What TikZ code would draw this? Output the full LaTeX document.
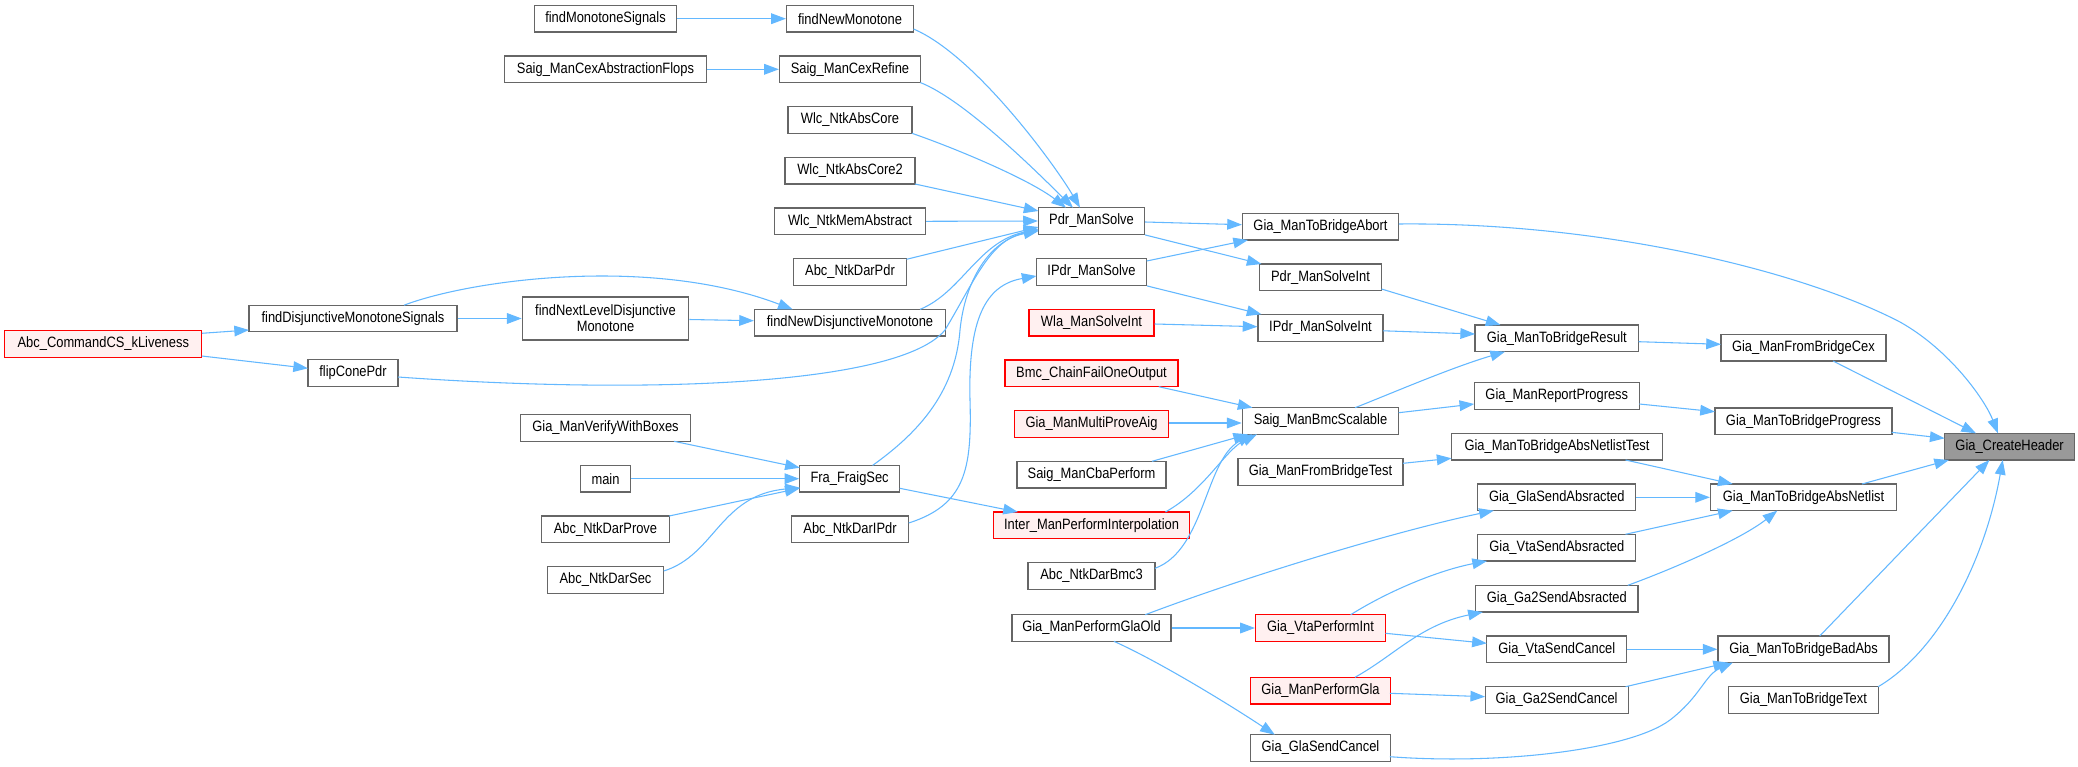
\documentclass[tikz,border=0pt]{standalone}
\usepackage{fontspec}
\newfontfamily\dox[FakeStretch=0.86]{Liberation Sans}
\usetikzlibrary{arrows.meta,calc}
\definecolor{edgeblue}{HTML}{63B8FF}
\definecolor{boxgray}{HTML}{666666}
\definecolor{redfill}{HTML}{FFF0F0}
\definecolor{hdrfill}{HTML}{999999}
\tikzset{
  box/.style={draw=boxgray, fill=white, line width=0.9pt, minimum height=20pt, inner sep=0pt, font=\dox\fontsize{11.25pt}{12pt}\selectfont},
  rbox/.style={box, draw=red, fill=redfill},
  hbox/.style={box, fill=hdrfill},
  bw/.style={minimum width=#1*0.75pt},
  edge/.style={draw=edgeblue, line width=0.8pt, -{Triangle[length=11pt,width=8pt]}},
}
\begin{document}
\begin{tikzpicture}[x=0.75pt,y=-0.75pt]
\path[use as bounding box, fill=white] (0,0) rectangle (2078,767);
% column 1
\node[rbox,bw=197] (kl) at (103.3,344) {Abc\_CommandCS\_kLiveness};
% column 2
\node[box,bw=208] (fdms) at (353,318.5) {findDisjunctiveMonotoneSignals};
\node[box,bw=90] (fcp) at (353,373) {flipConePdr};
% column 3
\node[box,bw=142] (fms) at (605.5,18.7) {findMonotoneSignals};
\node[box,bw=202] (scaf) at (605.5,69.3) {Saig\_ManCexAbstractionFlops};
\node[box,bw=166.5,minimum height=32.25pt,align=center] (fnld) at (605.5,318.5) {findNextLevelDisjunctive\\Monotone};
\node[box,bw=170] (gmvwb) at (605.5,428) {Gia\_ManVerifyWithBoxes};
\node[box,bw=50] (main) at (605.5,478.7) {main};
\node[box,bw=128] (dprove) at (605.5,529.3) {Abc\_NtkDarProve};
\node[box,bw=116.5] (dsec) at (605.5,580) {Abc\_NtkDarSec};
% column 4
\node[box,bw=127] (fnm) at (850,18.7) {findNewMonotone};
\node[box,bw=141] (scr) at (850,69.3) {Saig\_ManCexRefine};
\node[box,bw=124] (wac) at (850,120) {Wlc\_NtkAbsCore};
\node[box,bw=130] (wac2) at (850,170.7) {Wlc\_NtkAbsCore2};
\node[box,bw=151] (wma) at (850,221.3) {Wlc\_NtkMemAbstract};
\node[box,bw=113] (dpdr) at (850,272) {Abc\_NtkDarPdr};
\node[box,bw=191] (fndm) at (850,322.7) {findNewDisjunctiveMonotone};
\node[box,bw=99.6] (ffs) at (849.6,478.7) {Fra\_FraigSec};
\node[box,bw=117.5] (dipdr) at (850,529.3) {Abc\_NtkDarIPdr};
% column 5
\node[box,bw=106] (pms) at (1091.5,221) {Pdr\_ManSolve};
\node[box,bw=110] (ipms) at (1091.5,272) {IPdr\_ManSolve};
\node[rbox,bw=125] (wla) at (1091.5,322.7) {Wla\_ManSolveInt};
\node[rbox,bw=173] (bmc) at (1091.5,373.3) {Bmc\_ChainFailOneOutput};
\node[rbox,bw=154.5] (mpa) at (1091.5,424) {Gia\_ManMultiProveAig};
\node[box,bw=149] (cba) at (1091.5,474.7) {Saig\_ManCbaPerform};
\node[rbox,bw=196] (imp) at (1091.5,525.3) {Inter\_ManPerformInterpolation};
\node[box,bw=127] (bmc3) at (1091.5,576) {Abc\_NtkDarBmc3};
\node[box,bw=159] (pgo) at (1091.5,628) {Gia\_ManPerformGlaOld};
% column 6
\node[box,bw=156] (tba) at (1320.5,226.7) {Gia\_ManToBridgeAbort};
\node[box,bw=121.5] (pmsi) at (1320.5,277.3) {Pdr\_ManSolveInt};
\node[box,bw=125] (ipmsi) at (1320.5,327.8) {IPdr\_ManSolveInt};
\node[box,bw=156.5] (sbs) at (1320.5,421) {Saig\_ManBmcScalable};
\node[box,bw=165] (fbt) at (1320.5,472) {Gia\_ManFromBridgeTest};
\node[rbox,bw=130] (vpi) at (1320.5,628) {Gia\_VtaPerformInt};
\node[rbox,bw=139.5] (pg) at (1320.5,690.7) {Gia\_ManPerformGla};
\node[box,bw=139.5] (gsc) at (1320.5,748) {Gia\_GlaSendCancel};
% column 7
\node[box,bw=163.5] (tbr) at (1556.8,338.3) {Gia\_ManToBridgeResult};
\node[box,bw=165] (rp) at (1556.8,396) {Gia\_ManReportProgress};
\node[box,bw=211] (tbant) at (1557,446.7) {Gia\_ManToBridgeAbsNetlistTest};
\node[box,bw=158] (gsa) at (1556.8,497.3) {Gia\_GlaSendAbsracted};
\node[box,bw=158] (vsa) at (1556.8,547.7) {Gia\_VtaSendAbsracted};
\node[box,bw=162.5] (g2sa) at (1556.8,598.7) {Gia\_Ga2SendAbsracted};
\node[box,bw=140] (vsc) at (1556.8,649.3) {Gia\_VtaSendCancel};
\node[box,bw=143] (g2sc) at (1556.6,700) {Gia\_Ga2SendCancel};
% column 8
\node[box,bw=165] (fbc) at (1803.4,347.7) {Gia\_ManFromBridgeCex};
\node[box,bw=177] (tbp) at (1803.4,421.3) {Gia\_ManToBridgeProgress};
\node[box,bw=186] (tban) at (1803.5,497.3) {Gia\_ManToBridgeAbsNetlist};
\node[box,bw=171] (tbba) at (1803.5,649.3) {Gia\_ManToBridgeBadAbs};
\node[box,bw=149.5] (tbt) at (1803.4,700) {Gia\_ManToBridgeText};
% column 9
\node[hbox,bw=130] (ch) at (2009.6,446.7) {Gia\_CreateHeader};

% edges
\draw[edge] (fms.east) -- (fnm.west);
\draw[edge] (scaf.east) -- (scr.west);
\draw[edge] ($(fnm)+(63.5,10.3)$) .. controls (975,55) and (1055,165) .. ($(pms)+(-11.5,-13.3)$);
\draw[edge] ($(scr)+(70.4,13.3)$) .. controls (965,100) and (1040,175) .. ($(pms)+(-18.5,-13.3)$);
\draw[edge] ($(wac)+(62,13.3)$) .. controls (960,150) and (1030,180) .. ($(pms)+(-25.5,-13.3)$);
\draw[edge] ($(wac2)+(65,13.3)$) -- ($(pms)+(-53,-10)$);
\draw[edge] ($(wma.east)+(0,0)$) -- (pms.west);
\draw[edge] ($(dpdr)+(56.5,-12.7)$) -- ($(pms)+(-53,6)$);
\draw[edge] ($(fndm)+(70,-13.3)$) .. controls (962,292) and (978,242) .. ($(pms)+(-53,8)$);
\draw[edge] ($(fcp)+(45,4)$) .. controls (650,395) and (900,385) .. (945,330) .. controls (975,280) and (990,240) .. ($(pms)+(-53,9)$);
\draw[edge] ($(ffs)+(23,-13.3)$) .. controls (915,435) and (955,395) .. (960,330) .. controls (965,280) and (990,240) .. ($(pms)+(-53,10)$);
\draw[edge] ($(fdms)+(51,-13.3)$) .. controls (470,280) and (650,255) .. ($(fndm)+(-57.3,-13.3)$);
\draw[edge] (fdms.east) -- (fnld.west);
\draw[edge] ($(fnld.east)+(0,1)$) -- ($(fndm.west)+(0,-2)$);
\draw[edge] ($(kl)+(98.5,-10.7)$) -- ($(fdms)+(-104,11.5)$);
\draw[edge] ($(kl)+(98.5,12)$) -- ($(fcp)+(-45,-4.7)$);
\draw[edge] ($(dipdr)+(58.75,-6.3)$) .. controls (965,505) and (972,470) .. (970,400) .. controls (968,320) and (985,285) .. ($(ipms)+(-55,4)$);
\draw[edge] ($(pms.east)+(0,1)$) -- ($(tba.west)+(0,-2)$);
\draw[edge] (pms.south east) -- ($(pmsi)+(-59,-13.3)$);
\draw[edge] ($(ipms)+(55.2,-11)$) -- ($(tba)+(-72.5,13.3)$);
\draw[edge] (ipms.south east) -- ($(ipmsi)+(-59,-13.5)$);
\draw[edge] ($(wla.east)+(0,1.3)$) -- ($(ipmsi.west)+(0,-1.1)$);
\draw[edge] ($(pmsi)+(61,11.7)$) -- ($(tbr)+(-56.3,-13.3)$);
\draw[edge] ($(ipmsi)+(62.7,3)$) -- ($(tbr)+(-81.75,-4.3)$);
\draw[edge] ($(sbs)+(34.5,-13.3)$) .. controls (1390,394) and (1450,368) .. ($(tbr)+(-51.8,13.4)$);
\draw[edge] ($(bmc)+(67.25,13.4)$) -- ($(sbs)+(-68,-13.3)$);
\draw[edge] ($(mpa.east)+(0,-1)$) -- ($(sbs.west)+(0,2)$);
\draw[edge] ($(cba)+(60.5,-13.4)$) -- ($(sbs)+(-72.5,13.3)$);
\draw[edge] ($(imp)+(73.9,-13.3)$) .. controls (1205,490) and (1225,450) .. ($(sbs)+(-63.5,13.3)$);
\draw[edge] ($(bmc3)+(63.5,-7.7)$) .. controls (1205,550) and (1205,460) .. ($(sbs)+(-68.5,13.3)$);
\draw[edge] ($(gmvwb)+(68.5,13.3)$) -- ($(ffs)+(-49.8,-11)$);
\draw[edge] (main.east) -- (ffs.west);
\draw[edge] ($(dprove)+(63.6,-13.3)$) -- ($(ffs)+(-49.8,9.5)$);
\draw[edge] ($(dsec)+(58.25,-9)$) .. controls (715,555) and (720,495) .. ($(ffs)+(-49.8,9)$);
\draw[edge] ($(ffs)+(50.2,9.6)$) -- ($(imp)+(-73.6,-13.3)$);
\draw[edge] ($(sbs)+(78.25,-8.3)$) -- ($(rp)+(-82.6,8)$);
\draw[edge] ($(tbr)+(81.75,3.4)$) -- ($(fbc)+(-82.5,-3.4)$);
\draw[edge] ($(rp)+(82.6,8)$) -- ($(tbp)+(-88.5,-9.6)$);
\draw[edge] ($(fbt)+(82.5,-8.7)$) -- ($(tbant)+(-105.5,11.6)$);
\draw[edge] ($(tbant)+(68.5,13.3)$) -- ($(tban)+(-70.8,-13.3)$);
\draw[edge] (gsa.east) -- (tban.west);
\draw[edge] ($(vsa)+(68.7,-13.4)$) -- ($(tban)+(-70.8,13.3)$);
\draw[edge] ($(g2sa)+(71,-13.4)$) .. controls (1670,570) and (1740,540) .. ($(tban)+(-26.2,13.3)$);
\draw[edge] ($(pgo)+(53.8,-13.3)$) .. controls (1250,575) and (1400,530) .. ($(gsa)+(-63,13.3)$);
\draw[edge] (pgo.east) -- (vpi.west);
\draw[edge] ($(pgo)+(22.4,13.3)$) .. controls (1160,662) and (1230,705) .. ($(gsc)+(-45.7,-13.3)$);
\draw[edge] ($(vpi)+(30.2,-13.3)$) .. controls (1390,590) and (1440,570) .. ($(vsa)+(-69.8,13.3)$);
\draw[edge] ($(vpi)+(65,5.3)$) -- ($(vsc)+(-70,-6)$);
\draw[edge] ($(pg)+(34.5,-13.4)$) .. controls (1395,655) and (1420,625) .. ($(g2sa)+(-74,13.3)$);
\draw[edge] ($(pg)+(69.3,2.6)$) -- ($(g2sc)+(-71.5,-3.3)$);
\draw[edge] ($(gsc)+(69.3,8.7)$) .. controls (1500,765) and (1630,750) .. (1670,720) .. controls (1700,697) and (1705,675) .. ($(tbba)+(-70.8,13.3)$);
\draw[edge] (vsc.east) -- (tbba.west);
\draw[edge] ($(g2sc)+(69,-13.3)$) -- ($(tbba)+(-75.5,13.3)$);
\draw[edge] ($(tba)+(78.25,-2.7)$) .. controls (1600,222) and (1800,270) .. (1900,322) .. controls (1950,350) and (1985,400) .. ($(ch)+(-11.6,-13.3)$);
\draw[edge] ($(fbc)+(29.6,13.3)$) -- ($(ch)+(-33.6,-13.4)$);
\draw[edge] ($(tbp)+(88.2,11)$) -- ($(ch)+(-65,-8.4)$);
\draw[edge] ($(tban)+(58.5,-13.3)$) -- ($(ch)+(-60.6,13.3)$);
\draw[edge] ($(tbba)+(16.2,-13.3)$) -- ($(ch)+(-20.2,13.3)$);
\draw[edge] ($(tbt)+(74.8,-13.3)$) .. controls (1940,650) and (1985,560) .. ($(ch)+(-6.85,13.3)$);
\end{tikzpicture}
\end{document}
